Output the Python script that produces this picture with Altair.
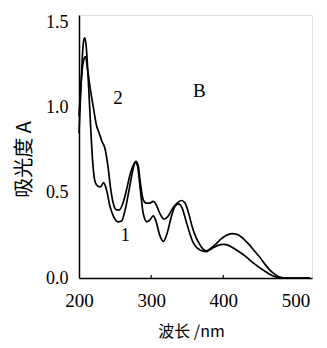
import altair as alt
import pandas as pd

# Curve 1 (lower curve)
wl1 = [200, 203, 206, 208, 210, 213, 216, 219, 222, 226, 230, 234, 238, 243, 248, 254, 259, 264, 270, 275,
       278, 281, 285, 289, 294, 298, 303, 307, 312, 317, 322, 328, 333, 338, 343, 348, 353, 358, 364, 370,
       377, 385, 392, 400, 408, 416, 425, 433, 441, 449, 456, 463, 470, 476, 485, 520]
a1 = [0.85, 1.15, 1.38, 1.41, 1.36, 1.15, 0.90, 0.68, 0.57, 0.54, 0.535, 0.56, 0.52, 0.42, 0.36, 0.33, 0.335, 0.40, 0.53, 0.64,
      0.68, 0.66, 0.52, 0.38, 0.33, 0.34, 0.365, 0.33, 0.25, 0.215, 0.26, 0.36, 0.42, 0.435, 0.41, 0.34, 0.27, 0.21, 0.175, 0.16,
      0.155, 0.175, 0.19, 0.197, 0.19, 0.17, 0.145, 0.12, 0.09, 0.065, 0.045, 0.025, 0.01, 0.003, 0.0, 0.0]

# Curve 2 (upper curve)
wl2 = [200, 203, 206, 209, 212, 216, 220, 224, 228, 232, 236, 240, 244, 248, 252, 256, 261, 266, 271, 275,
       279, 282, 285, 289, 293, 298, 303, 307, 312, 318, 323, 330, 336, 342, 347, 352, 357, 362, 367, 372,
       377, 383, 390, 397, 404, 412, 420, 428, 435, 443, 451, 458, 465, 472, 478, 485, 520]
a2 = [0.95, 1.15, 1.27, 1.30, 1.22, 1.10, 1.00, 0.90, 0.85, 0.80, 0.76, 0.66, 0.52, 0.43, 0.40, 0.40, 0.44, 0.52, 0.61, 0.66,
      0.685, 0.66, 0.56, 0.46, 0.44, 0.44, 0.45, 0.43, 0.38, 0.345, 0.36, 0.41, 0.44, 0.455, 0.44, 0.38, 0.30, 0.24, 0.20, 0.17,
      0.16, 0.175, 0.20, 0.23, 0.25, 0.26, 0.255, 0.23, 0.20, 0.16, 0.12, 0.08, 0.045, 0.02, 0.005, 0.0, 0.0]

x_ticks = [200, 300, 400, 500]
y_ticks = [0.0, 0.5, 1.0, 1.5]
inner_ticks = [300, 400]

label_text = ["2", "B", "1"]
label_x = [254, 367, 264]
label_y = [1.056, 1.10, 0.25]

df = pd.concat([
    pd.DataFrame({"wl": wl1, "A": a1, "curve": "1"}),
    pd.DataFrame({"wl": wl2, "A": a2, "curve": "2"}),
])
labels = pd.DataFrame({"t": label_text, "wl": label_x, "A": label_y})
ticks = pd.DataFrame({"wl": inner_ticks, "y0": 0.0, "y1": 0.018})

xscale = alt.Scale(domain=[200, 523], nice=False, zero=False)
yscale = alt.Scale(domain=[0, 1.544], nice=False, zero=False)

xaxis = alt.Axis(values=x_ticks, format="d", grid=False, ticks=False, tickSize=0,
                 domainColor="black", domainWidth=1.5,
                 labelFont="Liberation Serif", labelFontSize=19, labelColor="black",
                 labelBaseline="middle", labelPadding=22, labelFlush=False,
                 title="波长 /nm", titleFont="Noto Sans CJK SC", titleFontSize=16,
                 titleFontWeight="normal", titleColor="black",
                 titleX=112, titleY=53, titleBaseline="middle", titleAlign="center")
yaxis = alt.Axis(values=y_ticks, format=".1f", grid=False, ticks=False, tickSize=0,
                 domainColor="black", domainWidth=1.5,
                 labelFont="Liberation Serif", labelFontSize=18, labelColor="black",
                 labelPadding=11, labelFlush=False,
                 title="吸光度 A", titleFont="Noto Sans CJK SC", titleFontSize=20,
                 titleFontWeight="normal", titleColor="black",
                 titleX=-55, titleY=144, titleBaseline="middle", titleAlign="center",
                 titleAngle=270)

lines = alt.Chart(df).mark_line(color="black", strokeWidth=1.7, interpolate="monotone").encode(
    x=alt.X("wl:Q", scale=xscale, axis=xaxis),
    y=alt.Y("A:Q", scale=yscale, axis=yaxis),
    detail="curve:N",
)

tick_marks = alt.Chart(ticks).mark_rule(color="black", strokeWidth=1.2).encode(
    x=alt.X("wl:Q", scale=xscale),
    y=alt.Y("y0:Q", scale=yscale),
    y2="y1:Q",
)

texts = alt.Chart(labels).mark_text(font="Liberation Serif", fontSize=19, color="black").encode(
    x=alt.X("wl:Q", scale=xscale),
    y=alt.Y("A:Q", scale=yscale),
    text="t:N",
)

chart = alt.layer(lines, tick_marks, texts).properties(
    width=233, height=263,
    autosize=alt.AutoSizeParams(type="none"),
    padding={"left": 71, "top": 7, "right": 7, "bottom": 62},
).configure_view(stroke=None).configure(background="white")

chart.save("out.html", embed_options={"renderer": "svg", "actions": False})
